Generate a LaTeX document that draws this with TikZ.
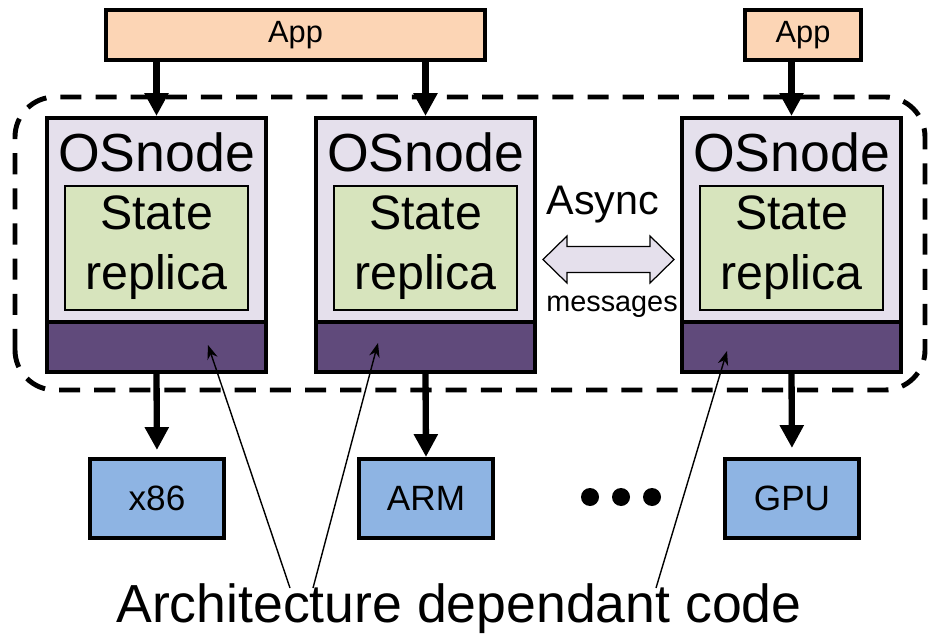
\documentclass[tikz,border=0pt]{standalone}
\usepackage{fontspec}
\setmainfont{Liberation Sans}
\usetikzlibrary{arrows.meta}

\definecolor{appfill}{HTML}{FCD5B5}
\definecolor{osfill}{HTML}{E5E0EC}
\definecolor{replfill}{HTML}{D7E4BD}
\definecolor{archfill}{HTML}{604A7B}
\definecolor{hwfill}{HTML}{8EB4E3}

\tikzset{
  appbox/.style={draw, line width=2.3pt, fill=appfill, minimum height=1cm, inner sep=0pt, font=\fontsize{17.5}{20}\selectfont},
  osbox/.style={draw, line width=2.3pt, fill=osfill, minimum width=4.38cm, minimum height=5.08cm, inner sep=0pt},
  archbar/.style={draw, line width=2.3pt, fill=archfill, minimum width=4.38cm, minimum height=1cm, inner sep=0pt},
  replbox/.style={draw, line width=0.9pt, fill=replfill, minimum width=3.66cm, minimum height=2.48cm, inner sep=0pt, align=center, font=\fontsize{27.5}{34}\selectfont},
  hwbox/.style={draw, line width=2.3pt, fill=hwfill, minimum width=2.68cm, minimum height=1.58cm, inner sep=0pt, font=\fontsize{20}{24}\selectfont},
  bigarrow/.style={line width=3.6pt, -{Triangle[length=13pt,width=13pt]}},
  thinarrow/.style={line width=0.8pt, -{Stealth[length=8pt,width=6pt]}},
}

\begin{document}
\begin{tikzpicture}
  \useasboundingbox (0,0) rectangle (18.62,12.78);

  % dashed group around the OS nodes
  \draw[line width=2.8pt, dash pattern=on 12pt off 8pt, rounded corners=0.8cm]
    (0.3,4.98) rectangle (18.5,10.84);

  % applications
  \node[appbox, minimum width=7.58cm] (app1) at (5.91,12.08) {App};
  \node[appbox, minimum width=2.32cm] (app2) at (16.06,12.08) {App};

  % OS nodes
  \foreach \n/\x in {os1/3.13, os2/8.51, os3/15.83} {
    \node[osbox] (\n) at (\x,7.88) {};
    \node[archbar] (\n-arch) at (\x,5.84) {};
    \node[replbox] (\n-repl) at (\x,7.82) {State\\replica};
    \node[font=\fontsize{30.5}{36}\selectfont] at (\x,9.74) {OSnode};
  }

  % hardware
  \node[hwbox] (x86) at (3.14,2.81) {x86};
  \node[hwbox] (arm) at (8.52,2.81) {ARM};
  \node[hwbox] (gpu) at (15.84,2.81) {GPU};

  \foreach \x in {11.8,12.42,13.04}
    \fill (\x,2.84) circle (0.18);

  % app to OS node
  \draw[bigarrow] (app1.south -| os1.north) -- (os1.north);
  \draw[bigarrow] (app1.south -| os2.north) -- (os2.north);
  \draw[bigarrow] (app2.south -| os3.north) -- (os3.north);

  % OS node to hardware
  \draw[bigarrow, shorten >=0.14cm] (os1-arch.south) -- (x86.north);
  \draw[bigarrow] (os2-arch.south) -- (arm.north);
  \draw[bigarrow, shorten >=0.18cm] (os3-arch.south) -- (gpu.north);

  % messages between replicas
  \coordinate (msg) at (12.17,7.59);
  \draw[line width=0.7pt, fill=osfill, shift={(msg)}]
    (-1.31,0) -- (-0.83,0.47) -- (-0.83,0.26) -- (0.83,0.26) -- (0.83,0.47)
    -- (1.31,0) -- (0.83,-0.47) -- (0.83,-0.26) -- (-0.83,-0.26) -- (-0.83,-0.47) -- cycle;
  \node[font=\fontsize{23.5}{28}\selectfont] (async) at (12.06,8.68) {Async};
  \node[font=\fontsize{16.4}{20}\selectfont] (msgs) at (12.24,6.64) {messages};

  % architecture dependant code
  \node[font=\fontsize{30.5}{36}\selectfont] (label) at (9.18,0.6) {Architecture dependant code};
  \coordinate (s1) at (5.8,1.02);
  \coordinate (s2) at (6.26,1.02);
  \coordinate (s3) at (13.12,1.02);
  \coordinate (t1) at (4.16,5.88);
  \coordinate (t2) at (7.56,5.92);
  \coordinate (t3) at (14.54,5.76);
  \draw[thinarrow] (s1) -- (t1);
  \draw[thinarrow] (s2) -- (t2);
  \draw[thinarrow] (s3) -- (t3);
\end{tikzpicture}
\end{document}
